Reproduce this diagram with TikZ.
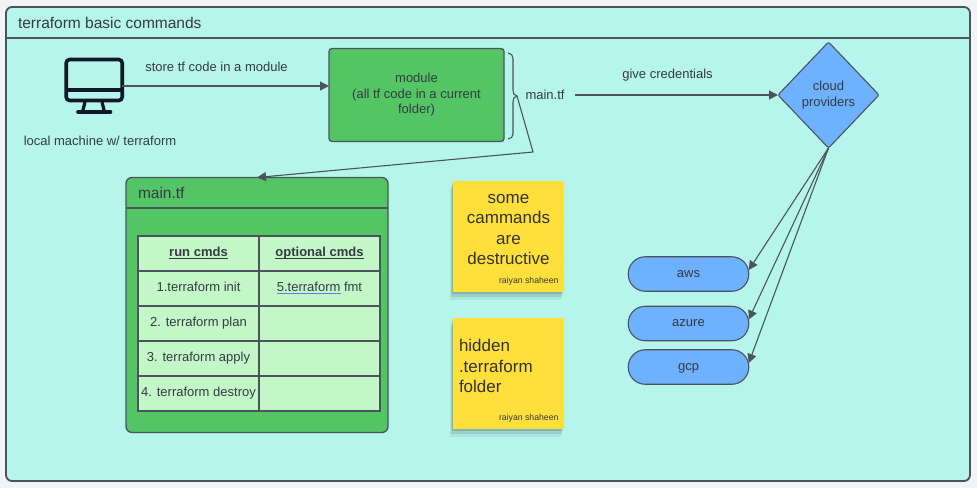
\documentclass[tikz,border=0pt]{standalone}
\usepackage{fontspec}
\setmainfont{Liberation Sans}
\usetikzlibrary{arrows.meta,positioning,shapes.geometric,shadows}
\definecolor{pagegrey}{HTML}{F2F3F5}
\definecolor{tealbg}{HTML}{B6F5EC}
\definecolor{edgegrey}{HTML}{4C535D}
\definecolor{inkgrey}{HTML}{343B42}
\definecolor{leafgreen}{HTML}{54C565}
\definecolor{palegreen}{HTML}{C3F7C8}
\definecolor{skyblue}{HTML}{6DB1FF}
\definecolor{noteyellow}{HTML}{FFDF3A}
\definecolor{iconink}{HTML}{0F1A24}
\definecolor{spellblue}{HTML}{6B75F5}
\newcommand{\headcell}[1]{\underline{\smash{#1}}}
\begin{document}
\begin{tikzpicture}[
    x=1pt, y=-1pt,
    every node/.style={text=inkgrey, font=\fontsize{13}{15.6}\selectfont, inner sep=0pt, outer sep=0pt},
    frame/.style={draw=edgegrey, line width=1.8pt, rounded corners=6pt, fill=tealbg},
    box/.style={draw=edgegrey, line width=1.3pt, rounded corners=3pt, align=center, fill=leafgreen},
    cell/.style={draw=edgegrey, line width=1.4pt, fill=palegreen, minimum width=121pt, minimum height=35pt, text height=9pt, text depth=3pt},
    pill/.style={draw=edgegrey, line width=1.1pt, rounded corners=17pt, fill=skyblue, minimum width=120.5pt, minimum height=34.5pt, text height=9pt, text depth=3pt},
    note/.style={fill=noteyellow, minimum width=111pt, minimum height=111pt,
      drop shadow={shadow xshift=-1pt, shadow yshift=-2pt, opacity=.12, fill=black},
      drop shadow={shadow xshift=-2pt, shadow yshift=-5pt, opacity=.1, fill=black},
      drop shadow={shadow xshift=-3pt, shadow yshift=-8pt, opacity=.06, fill=black}},
    notetext/.style={font=\fontsize{17}{20.5}\selectfont, text=black!80},
    sign/.style={font=\fontsize{8.7}{10}\selectfont},
    arr/.style={-{Triangle[length=9pt,width=9pt]}, line width=1.1pt, draw=edgegrey}
  ]
    \useasboundingbox[fill=pagegrey] (0,0) rectangle (977,488);

    \node[frame, minimum width=964pt, minimum height=474pt] (canvas) at (488,244) {};
    \draw[edgegrey, line width=1.2pt] (canvas.west |- 0,38) -- (canvas.east |- 0,38);
    \node[anchor=west, font=\fontsize{15.5}{18}\selectfont] (title) at (18,23) {terraform basic commands};

    % local machine
    \node[draw=iconink, line width=3.6pt, rounded corners=3.5pt, minimum width=56pt, minimum height=41pt] (pc) at (94.2,80) {};
    \draw[iconink, line width=3.4pt] (pc.west |- 0,90) -- (pc.east |- 0,90);
    \draw[iconink, line width=3.2pt] (85,102) -- (82.5,112) (102,102) -- (104.5,112);
    \draw[iconink, line width=3.6pt, line cap=round] (78,112) -- (110.5,112);
    \node (pclabel) at (100,141) {local machine w/ terraform};

    \node[box, minimum width=175pt, minimum height=93pt] (module) at (416.5,95) {module\\(all tf code in a current\\folder)};
    \node[minimum width=60pt] (maintf) at (545,95) {main.tf};
    \node[draw=edgegrey, line width=1.1pt, diamond, aspect=0.95, rounded corners=2pt, fill=skyblue, align=center,
      minimum width=101pt, minimum height=106pt] (cloud) at (828.5,95) {cloud\\providers};

    % brace beside the module
    \coordinate (bracetip) at (517,96);
    \coordinate (bend) at (533,152);
    \draw[edgegrey, line width=1.1pt] (508,53) .. controls (511,53.5) and (513,55) .. (513,58) -- (513,90)
      .. controls (513,93) and (514,96) .. (bracetip) .. controls (514,96) and (513,99) .. (513,102) -- (513,134)
      .. controls (513,137) and (511,138.5) .. (508,139);

    % main.tf panel
    \node[box, rounded corners=6pt, minimum width=262pt, minimum height=255pt] (panel) at (257,305) {};
    \draw[edgegrey, line width=1.3pt] (panel.west |- 0,208) -- (panel.east |- 0,208);
    \node[anchor=west, font=\fontsize{15.5}{18}\selectfont] (paneltitle) at (138,193) {main.tf};

    \node[cell, font=\fontsize{13}{15}\bfseries] (run) at (198.5,253.5) {\headcell{run cmds}};
    \node[cell, font=\fontsize{13}{15}\bfseries, right=0pt of run] (opt) {\headcell{optional cmds}};
    \node[cell, below=0pt of run] (init) {1.terraform init};
    \node[cell, below=0pt of opt] (fmt) {5.terraform fmt};
    \node[cell, below=0pt of init] (plan) {2. terraform plan};
    \node[cell, below=0pt of fmt] (blanka) {};
    \node[cell, below=0pt of plan] (apply) {3. terraform apply};
    \node[cell, below=0pt of blanka] (blankb) {};
    \node[cell, below=0pt of apply] (destroy) {4. terraform destroy};
    \node[cell, below=0pt of blankb] (blankc) {};
    \draw[spellblue, line width=1pt] (277,293) -- (341,293);

    % sticky notes
    \node[note] (noteone) at (508.5,236.5) {};
    \node[note, below=26pt of noteone] (notetwo) {};
    \node[notetext, align=center] (notetextone) at (508.5,229.5) {some\\cammands\\are\\destructive};
    \node[notetext, align=left, anchor=west] (notetexttwo) at (459,366) {hidden\\.terraform\\folder};
    \node[sign, anchor=south east] (signone) at ([xshift=-5.5pt,yshift=7pt]noteone.south east) {raiyan shaheen};
    \node[sign, anchor=south east] (signtwo) at ([xshift=-5.5pt,yshift=7pt]notetwo.south east) {raiyan shaheen};

    % providers
    \node[pill] (aws) at (688.5,274) {aws};
    \node[pill, below=15pt of aws] (azure) {azure};
    \node[pill, below=9pt of azure] (gcp) {gcp};

    \node (storelabel) at (216.5,67) {store tf code in a module};
    \node (credlabel) at (667.5,75) {give credentials};

    \draw[arr] ([yshift=-6pt]pc.east) -- ([yshift=9pt]module.west);
    \draw[arr] (maintf) -- (cloud);
    \draw[arr] (bracetip) -- (bend) -- (panel.north);
    \draw[arr] (cloud.south) -- ([yshift=4pt]aws.east);
    \draw[arr] (cloud.south) -- ([yshift=4pt]azure.east);
    \draw[arr] (cloud.south) -- ([yshift=4pt]gcp.east);
  \end{tikzpicture}
\end{document}
